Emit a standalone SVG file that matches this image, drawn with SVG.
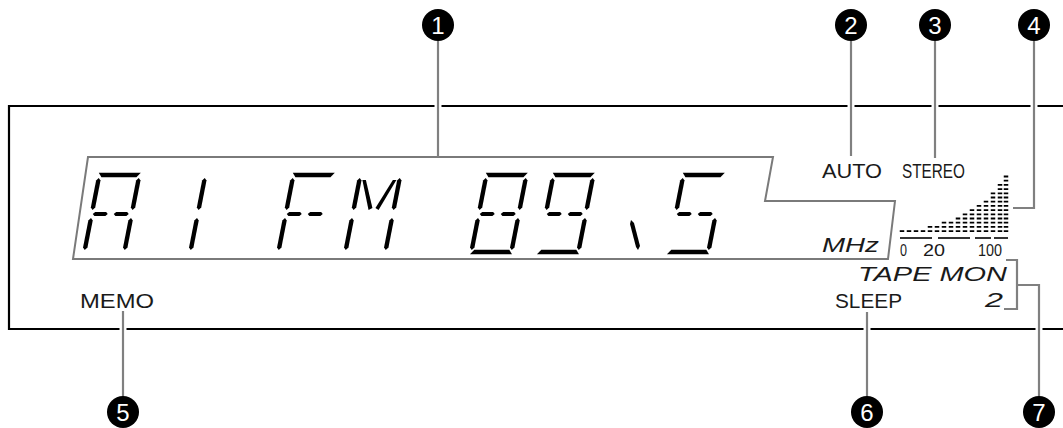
<svg xmlns="http://www.w3.org/2000/svg" xmlns:xlink="http://www.w3.org/1999/xlink" width="1063" height="428" viewBox="0 0 1063 428">
<style>
.frame{fill:none;stroke:#000;stroke-width:2.2}
.win{fill:none;stroke:#7a7a7a;stroke-width:2}
.lead{fill:none;stroke:#808080;stroke-width:2.2}
.halo{fill:none;stroke:#fff;stroke-width:7}
.seg{fill:#000}
.lbl{font-family:"Liberation Sans",Arial,sans-serif;font-size:21px;fill:#1a1a1a}
.it{font-style:italic}
.sc{font-family:"Liberation Sans",Arial,sans-serif;font-size:16px;fill:#1a1a1a}
.num{font-family:"Liberation Sans",Arial,sans-serif;font-size:24px;fill:#fff;text-anchor:middle}
.bar{stroke:#000;stroke-width:4.5;stroke-dasharray:1.8 2.4}
.tick{stroke:#000;stroke-width:1.6}
</style>
<defs>
<polygon id="sv" points="0,0 2.2,2.4 2.2,29.6 0,32 -2.2,29.6 -2.2,2.4"/>
<polygon id="sa" points="-1,-2.2 41,-2.2 37.5,2.2 2.5,2.2"/>
<polygon id="sd" points="2.5,-2.2 37.5,-2.2 41,2.2 -1,2.2"/>
<polygon id="sg" points="0,0 2,-2 13,-2 15,0 13,2 2,2"/>
</defs>

<g id="panel">
<path class="frame" d="M1064,106 H9 V329 H1064"/>
<polygon class="win" points="88,157 773,157 765,201 895,201 888,259 73,259"/>
</g>

<g id="display-digits" class="seg">
<g id="ch-A" transform="translate(84,254) skewX(-11)">
<use xlink:href="#sa" y="-79"/><use xlink:href="#sv" y="-76"/><use xlink:href="#sv" x="40" y="-76"/>
<use xlink:href="#sg" x="1" y="-40"/><use xlink:href="#sg" x="22" y="-40"/>
<use xlink:href="#sv" y="-36"/><use xlink:href="#sv" x="40" y="-36"/>
</g>
<g id="ch-1" transform="translate(150,254) skewX(-11)">
<use xlink:href="#sv" x="40" y="-76"/><use xlink:href="#sv" x="40" y="-36"/>
</g>
<g id="ch-F" transform="translate(278,254) skewX(-11)">
<use xlink:href="#sa" y="-79"/><use xlink:href="#sv" y="-76"/>
<use xlink:href="#sg" x="1" y="-40"/><use xlink:href="#sg" x="22" y="-40"/>
<use xlink:href="#sv" y="-36"/>
</g>
<g id="ch-M" transform="translate(345,254) skewX(-11)">
<use xlink:href="#sv" y="-76"/><use xlink:href="#sv" x="40" y="-76"/>
<polygon points="3,-74 6.5,-74 18.5,-46 15,-44"/>
<polygon points="37,-74 33.5,-74 21.5,-46 25,-44"/>
<use xlink:href="#sv" y="-36"/><use xlink:href="#sv" x="40" y="-36"/>
</g>
<g id="ch-8" transform="translate(471,254) skewX(-11)">
<use xlink:href="#sa" y="-79"/><use xlink:href="#sv" y="-76"/><use xlink:href="#sv" x="40" y="-76"/>
<use xlink:href="#sg" x="1" y="-40"/><use xlink:href="#sg" x="22" y="-40"/>
<use xlink:href="#sv" y="-36"/><use xlink:href="#sv" x="40" y="-36"/>
<use xlink:href="#sd" y="-2"/>
</g>
<g id="ch-9" transform="translate(538,254) skewX(-11)">
<use xlink:href="#sa" y="-79"/><use xlink:href="#sv" y="-76"/><use xlink:href="#sv" x="40" y="-76"/>
<use xlink:href="#sg" x="1" y="-40"/><use xlink:href="#sg" x="22" y="-40"/>
<use xlink:href="#sv" x="40" y="-36"/>
<use xlink:href="#sd" y="-2"/>
</g>
<polygon id="ch-dot" points="631,220 634,223 640,246 638,250 636,247 630,224"/>
<g id="ch-5" transform="translate(668,254) skewX(-11)">
<use xlink:href="#sa" y="-79"/><use xlink:href="#sv" y="-76"/>
<use xlink:href="#sg" x="1" y="-40"/><use xlink:href="#sg" x="22" y="-40"/>
<use xlink:href="#sv" x="40" y="-36"/>
<use xlink:href="#sd" y="-2"/>
</g>
</g>

<g id="meter">
<line class="bar" x1="902" y1="232" x2="902" y2="229.8"/>
<line class="bar" x1="909" y1="232" x2="909" y2="229.8"/>
<line class="bar" x1="916" y1="232" x2="916" y2="229.8"/>
<line class="bar" x1="923" y1="232" x2="923" y2="229.8"/>
<line class="bar" x1="930" y1="232" x2="930" y2="225.6"/>
<line class="bar" x1="937" y1="232" x2="937" y2="225.6"/>
<line class="bar" x1="944" y1="232" x2="944" y2="221.4"/>
<line class="bar" x1="951" y1="232" x2="951" y2="221.4"/>
<line class="bar" x1="958" y1="232" x2="958" y2="217.2"/>
<line class="bar" x1="965" y1="232" x2="965" y2="213"/>
<line class="bar" x1="972" y1="232" x2="972" y2="208.8"/>
<line class="bar" x1="979" y1="232" x2="979" y2="204.6"/>
<line class="bar" x1="986" y1="232" x2="986" y2="200.4"/>
<line class="bar" x1="993" y1="232" x2="993" y2="192"/>
<line class="bar" x1="1000" y1="232" x2="1000" y2="183.6"/>
<line class="bar" x1="1006" y1="232" x2="1006" y2="175.2"/>
<line class="tick" x1="900" y1="238" x2="932" y2="238"/>
<line class="tick" x1="938" y1="238" x2="970" y2="238"/>
<line class="tick" x1="975" y1="238" x2="991" y2="238"/>
<line class="tick" x1="994" y1="238" x2="1008" y2="238"/>
<text class="sc" x="900" y="256" textLength="7" lengthAdjust="spacingAndGlyphs">0</text>
<text class="sc" x="923" y="256" textLength="22" lengthAdjust="spacingAndGlyphs">20</text>
<text class="sc" x="978" y="256" textLength="24" lengthAdjust="spacingAndGlyphs">100</text>
</g>

<g id="labels">
<text id="t-auto" class="lbl" x="822" y="178" textLength="60" lengthAdjust="spacingAndGlyphs">AUTO</text>
<text id="t-stereo" class="lbl" x="902" y="178" textLength="63" lengthAdjust="spacingAndGlyphs">STEREO</text>
<text id="t-mhz" class="lbl it" x="822" y="252" font-size="23" textLength="57" lengthAdjust="spacingAndGlyphs">MHz</text>
<text id="t-memo" class="lbl" x="80" y="308" textLength="74" lengthAdjust="spacingAndGlyphs">MEMO</text>
<text id="t-sleep" class="lbl" x="835" y="308" textLength="67" lengthAdjust="spacingAndGlyphs">SLEEP</text>
<text id="t-tape" class="lbl it" x="858" y="281" font-size="20" textLength="149" lengthAdjust="spacingAndGlyphs">TAPE MON</text>
<text id="t-2" class="lbl it" x="985" y="307" font-size="20" textLength="18" lengthAdjust="spacingAndGlyphs">2</text>
</g>

<g id="connectors">
<line class="halo" x1="438" y1="101" x2="438" y2="111"/>
<line class="halo" x1="851" y1="101" x2="851" y2="111"/>
<line class="halo" x1="935" y1="101" x2="935" y2="111"/>
<line class="halo" x1="1034" y1="101" x2="1034" y2="111"/>
<line class="halo" x1="123" y1="324" x2="123" y2="334"/>
<line class="halo" x1="867" y1="324" x2="867" y2="334"/>
<line class="halo" x1="1039" y1="324" x2="1039" y2="334"/>
<path id="c1" class="lead" d="M438,41 V157"/>
<path id="c2" class="lead" d="M851,41 V156"/>
<path id="c3" class="lead" d="M935,41 V158"/>
<path id="c4" class="lead" d="M1034,41 V208 H1013"/>
<path id="c5" class="lead" d="M123,311 V397"/>
<path id="c6" class="lead" d="M867,312 V397"/>
<path id="c7" class="lead" d="M1006,260 H1017 V309 H1004 M1017,285 H1039 V397"/>
</g>

<g id="callout-1"><circle cx="438" cy="25" r="16"/><text class="num" x="438" y="33.5">1</text></g>
<g id="callout-2"><circle cx="851" cy="25" r="16"/><text class="num" x="851" y="33.5">2</text></g>
<g id="callout-3"><circle cx="935" cy="25" r="16"/><text class="num" x="935" y="33.5">3</text></g>
<g id="callout-4"><circle cx="1034" cy="25" r="16"/><text class="num" x="1034" y="33.5">4</text></g>
<g id="callout-5"><circle cx="123" cy="412" r="16"/><text class="num" x="123" y="420.5">5</text></g>
<g id="callout-6"><circle cx="867" cy="412" r="16"/><text class="num" x="867" y="420.5">6</text></g>
<g id="callout-7"><circle cx="1039" cy="412" r="16"/><text class="num" x="1039" y="420.5">7</text></g>
</svg>
